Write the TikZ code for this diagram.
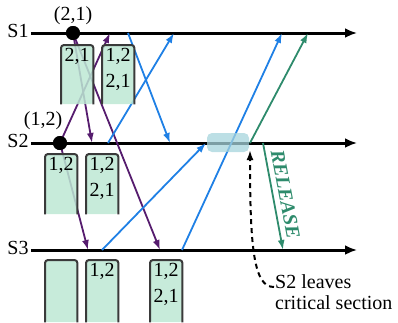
\documentclass[tikz,border=0pt]{standalone}
\usepackage{fontspec}
\setmainfont{Liberation Serif}
\usetikzlibrary{arrows.meta,positioning,calc}
\definecolor{msgpurple}{HTML}{561C6E}
\definecolor{msgblue}{HTML}{1F80E5}
\definecolor{msggreen}{HTML}{2E8B6C}
\definecolor{queuemint}{HTML}{BDE8D4}
\definecolor{queueedge}{HTML}{3A3A3A}
\definecolor{critblue}{HTML}{A6D4DC}
\tikzset{
  >=Latex,
  proc/.style={font=\fontsize{20}{24}\selectfont, inner sep=2pt},
  stamp/.style={font=\fontsize{20}{24}\selectfont, inner sep=1pt},
  timeline/.style={-{Latex[length=12pt,width=10pt]}, line width=3pt},
  event/.style={circle, fill=black, minimum size=14pt, inner sep=0pt},
  msg/.style={-{Latex[length=10pt,width=7pt]}, line width=1.8pt},
  queue/.style={
    rectangle, rounded corners=3pt, fill=queuemint, fill opacity=0.85,
    minimum width=32pt, inner sep=0pt, anchor=north west
  },
  queueline/.style={draw=queueedge, line width=2pt, rounded corners=3pt},
  entries/.style={font=\fontsize{20}{26}\selectfont, align=center, inner sep=3pt, anchor=north},
  critical/.style={
    rectangle, rounded corners=5pt, fill=critblue, fill opacity=0.75,
    minimum width=42pt, minimum height=19pt, inner sep=0pt
  },
  release/.style={font=\fontsize{20}{24}\selectfont\bfseries\itshape, text=msggreen, inner sep=2pt},
  leave/.style={-{Latex[length=10pt,width=7pt]}, line width=2pt, dash pattern=on 5pt off 4pt},
  note/.style={font=\fontsize{20}{21}\selectfont, align=left, anchor=west, inner sep=1pt}
}
\newcommand{\queuebox}[4]{
  \node[queue, minimum height=#3] (#1) at (#2) {};
  \draw[queueline] (#1.south west) -- (#1.north west) -- (#1.north east) -- (#1.south east);
  \node[entries] at (#1.north) {#4};
}

\begin{document}
\begin{tikzpicture}[x=1pt,y=-1pt]
\useasboundingbox (0,0) rectangle (398,322);
\node[proc] (s1) at (18,31) {S1};
\node[proc] (s2) at (18,141) {S2};
\node[proc] (s3) at (18,248) {S3};
\coordinate (s1end) at (357,33);
\coordinate (s2end) at (357,143);
\coordinate (s3end) at (357,250);
\draw[timeline] (s1.east |- s1end) -- (s1end);
\draw[timeline] (s2.east |- s2end) -- (s2end);
\draw[timeline] (s3.east |- s3end) -- (s3end);
\node[event] (d1) at (73,33) {};
\node[event] (d2) at (60,143) {};
\node[stamp, above=0pt of d1] (stamp1) {(2,1)};
\node[stamp] (stamp2) at (43,121) {(1,2)};
\coordinate (p1in) at (110,33);
\coordinate (b1out) at (128,33);
\coordinate (b2in) at (174,33);
\coordinate (b4in) at (282,33);
\coordinate (g1in) at (308,33);
\coordinate (p2in) at (92,143);
\coordinate (b2out) at (108,143);
\coordinate (b1in) at (170,143);
\coordinate (b3in) at (206,143);
\coordinate (g1out) at (250,143);
\coordinate (g2out) at (263,143);
\coordinate (cs) at (250,150);
\coordinate (p3in) at (88,250);
\coordinate (b3out) at (102,250);
\coordinate (p4in) at (160,250);
\coordinate (b4out) at (182,250);
\coordinate (g2in) at (283,250);
\draw[msg, msgpurple] (d2.center) -- (p1in);
\draw[msg, msgpurple] (d1.center) -- (p2in);
\draw[msg, msgpurple] (d1.center) -- (p4in);
\draw[msg, msgpurple] (d2.center) -- (p3in);
\draw[msg, msgblue] (b1out) -- (b1in);
\draw[msg, msgblue] (b2out) -- (b2in);
\draw[msg, msgblue] (b3out) -- (b3in);
\draw[msg, msgblue] (b4out) -- (b4in);
\draw[msg, msggreen] (g1out) -- (g1in);
\draw[msg, msggreen] (g2out) -- node[midway, sloped, above=3pt, release] {RELEASE} (g2in);
\queuebox{q11}{61,45}{59pt}{2,1}
\queuebox{q12}{102,45}{59pt}{1,2\\2,1}
\queuebox{q21}{45,154}{60pt}{1,2}
\queuebox{q22}{86,154}{60pt}{1,2\\2,1}
\queuebox{q31}{45,260}{62pt}{}
\queuebox{q32}{86,260}{62pt}{1,2}
\queuebox{q33}{150,260}{62pt}{1,2\\2,1}
\node[critical] (crit) at (228,142.5) {};
\node[event] at (d1) {};
\node[event] at (d2) {};
\node[note] (leave) at (274,292) {S2 leaves\\critical section};
\draw[leave] ([yshift=5pt]leave.west) .. controls (254,287) and (250,250) .. (cs);
\end{tikzpicture}
\end{document}
